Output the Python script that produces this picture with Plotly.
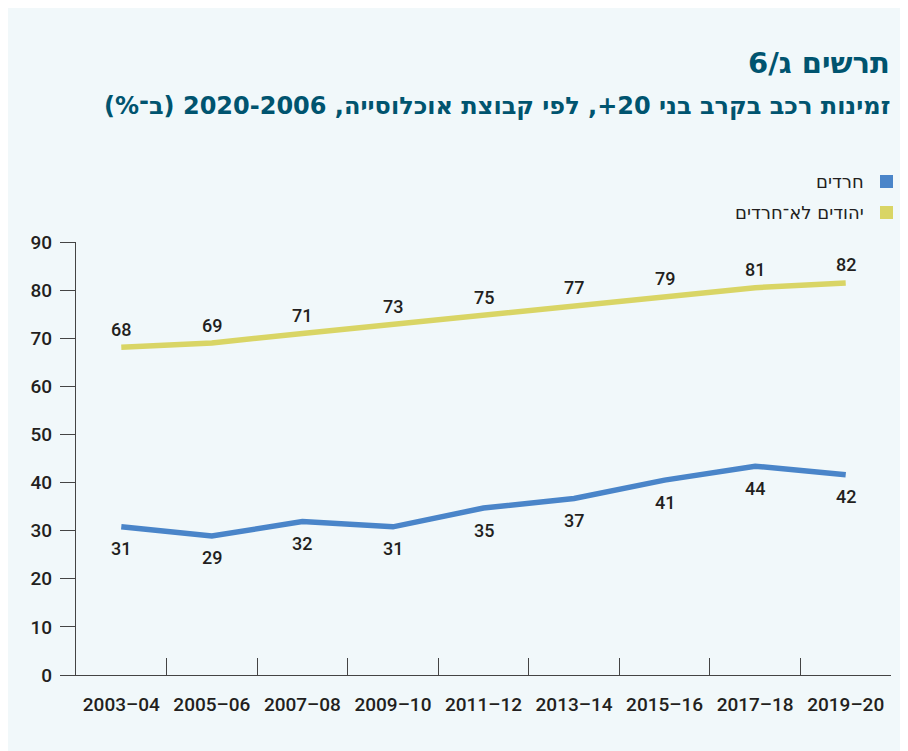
import plotly.graph_objects as go

categories = ["2003-04", "2005-06", "2007-08", "2009-10", "2011-12",
              "2013-14", "2015-16", "2017-18", "2019-20"]
haredi_values = [30.8, 28.9, 31.9, 30.8, 34.7, 36.7, 40.5, 43.4, 41.6]
haredi_labels = ["31", "29", "32", "31", "35", "37", "41", "44", "42"]
nonharedi_values = [68.1, 69.0, 71.0, 72.9, 74.8, 76.7, 78.6, 80.5, 81.5]
nonharedi_labels = ["68", "69", "71", "73", "75", "77", "79", "81", "82"]
y_ticks = [0, 10, 20, 30, 40, 50, 60, 70, 80, 90]

series_names = ["חרדים", "יהודים לא־חרדים"]
title_text = "תרשים ג/6"
subtitle_text = "זמינות רכב בקרב בני 20+, לפי קבוצת אוכלוסייה, 2020-2006 (ב־%)"

BLUE = "#4a85c9"
YELLOW = "#d9d565"
TEAL = "#00546f"
DARK = "#231f20"
BG = "#f1f8fa"
NUMFONT = "Roboto, Liberation Sans, sans-serif"
HEBFONT = "DejaVu Sans, Liberation Sans, sans-serif"

OFF = 8  # page body margin
W, H = 900, 743
L, R, T, B = 68, 17, 234, 76
pw, ph = W - L - R, H - T - B


def px(x):
    return (x - OFF - L) / pw


def py(y):
    return (H - B - (y - OFF)) / ph


fig = go.Figure()
fig.add_trace(go.Scatter(
    x=categories, y=nonharedi_values, mode="lines",
    line=dict(color=YELLOW, width=5.5), name=series_names[1],
    cliponaxis=False, hoverinfo="skip"))
fig.add_trace(go.Scatter(
    x=categories, y=haredi_values, mode="lines",
    line=dict(color=BLUE, width=5.5), name=series_names[0],
    cliponaxis=False, hoverinfo="skip"))

shapes = []
annotations = []
label_font = dict(size=18, color=DARK, family=NUMFONT, weight=500)
for c, v, t in zip(categories, nonharedi_values, nonharedi_labels):
    annotations.append(dict(x=c, y=v, text=t, xref="x", yref="y",
                            showarrow=False, yshift=18, font=label_font,
                            xanchor="center", yanchor="middle"))
for c, v, t in zip(categories, haredi_values, haredi_labels):
    annotations.append(dict(x=c, y=v, text=t, xref="x", yref="y",
                            showarrow=False, yshift=-22, font=label_font,
                            xanchor="center", yanchor="middle"))

annotations += [
    dict(text="<b>" + title_text + "</b>", xref="paper", yref="paper",
         x=px(892), y=py(63), xanchor="right", yanchor="middle",
         showarrow=False, font=dict(size=29, color=TEAL, family=HEBFONT)),
    dict(text="<b>" + subtitle_text + "</b>", xref="paper", yref="paper",
         x=px(892), y=py(106), xanchor="right", yanchor="middle",
         showarrow=False, font=dict(size=24, color=TEAL, family=HEBFONT)),
]
legend_rows = [(series_names[0], BLUE, 181), (series_names[1], YELLOW, 212)]
for name, color, yy in legend_rows:
    shapes.append(dict(type="rect", xref="paper", yref="paper",
                       x0=px(880), x1=px(893), y0=py(yy + 7), y1=py(yy - 6),
                       fillcolor=color, line=dict(width=0)))
    annotations.append(dict(text=name, xref="paper", yref="paper",
                            x=px(866), y=py(yy), xanchor="right",
                            yanchor="middle", showarrow=False,
                            font=dict(size=18, color=DARK, family=HEBFONT)))

fig.update_layout(
    width=W, height=H,
    margin=dict(l=L, r=R, t=T, b=B),
    paper_bgcolor=BG, plot_bgcolor="rgba(0,0,0,0)",
    showlegend=False,
    font=dict(family=NUMFONT, color=DARK),
    shapes=shapes, annotations=annotations,
    xaxis=dict(
        type="category", range=[-0.5, 8.5], tickson="boundaries",
        ticks="inside", ticklen=17, tickcolor="#444", tickwidth=1,
        showline=True, linecolor="#444", linewidth=1.2,
        showgrid=False, zeroline=False,
        tickfont=dict(size=19, color=DARK, family=NUMFONT, weight=500),
        ticklabelstandoff=12,
        tickvals=categories,
        ticktext=[c.replace("-", "–") for c in categories],
    ),
    yaxis=dict(
        range=[0, 90], tickvals=y_ticks,
        ticktext=[str(v) for v in y_ticks],
        ticks="outside", ticklen=15, tickcolor="#444", tickwidth=1,
        showline=True, linecolor="#444", linewidth=1.2,
        showgrid=False, zeroline=False,
        tickfont=dict(size=19, color=DARK, family=NUMFONT, weight=500),
        ticklabelstandoff=4,
    ),
)
fig.write_html("out.html")
